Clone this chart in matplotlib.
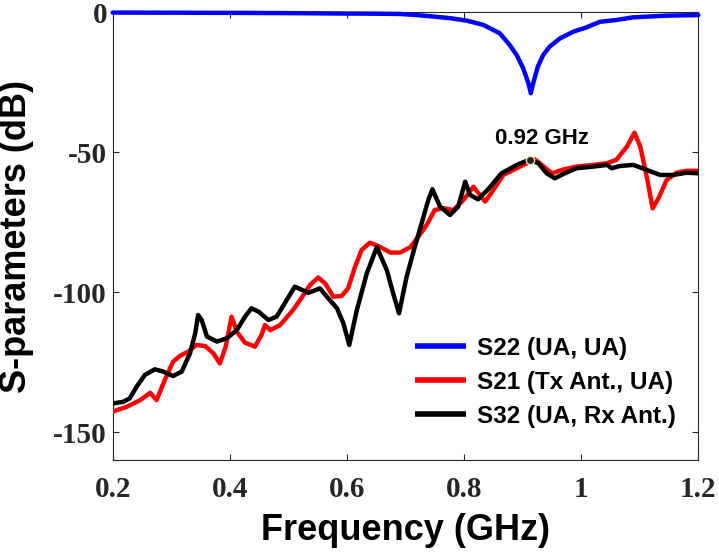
import matplotlib
matplotlib.use('Agg')
import matplotlib.pyplot as plt

# S22 (UA, UA) - reflection, deep dip at resonance
s22_f = [0.20, 0.30, 0.40, 0.50, 0.60, 0.65, 0.69, 0.72, 0.747, 0.776, 0.805,
         0.833, 0.861, 0.878, 0.890, 0.901, 0.910, 0.914, 0.918, 0.926, 0.935,
         0.946, 0.964, 0.987, 1.009, 1.032, 1.060, 1.089, 1.146, 1.200]
s22_db = [-0.1, -0.15, -0.2, -0.3, -0.45, -0.5, -0.6, -1.0, -1.5, -2.1, -3.0,
          -4.5, -7.5, -11.7, -15.3, -20.0, -25.4, -28.9, -25.4, -19.4, -15.3,
          -12.3, -9.3, -6.9, -5.4, -3.4, -2.75, -1.8, -1.2, -1.0]

# S21 (Tx Ant., UA)
s21_f = [0.200, 0.224, 0.247, 0.264, 0.275, 0.289, 0.303, 0.315, 0.329, 0.343,
         0.358, 0.372, 0.383, 0.393, 0.403, 0.412, 0.426, 0.443, 0.454, 0.460,
         0.469, 0.486, 0.508, 0.520, 0.537, 0.551, 0.563, 0.577, 0.591, 0.602,
         0.614, 0.625, 0.639, 0.654, 0.674, 0.691, 0.708, 0.722, 0.736, 0.750,
         0.765, 0.782, 0.799, 0.816, 0.836, 0.850, 0.867, 0.890, 0.909, 0.921,
         0.936, 0.950, 0.970, 0.992, 1.021, 1.044, 1.060, 1.078, 1.091, 1.101,
         1.112, 1.122, 1.132, 1.146, 1.163, 1.180, 1.200]
s21_db = [-142.6, -140.9, -138.5, -135.9, -138.5, -131.3, -124.8, -122.7, -121.2, -118.8,
          -119.2, -121.8, -125.4, -119.4, -108.7, -114.1, -118.0, -119.4, -115.3, -111.7,
          -113.5, -111.7, -106.3, -102.8, -97.4, -94.7, -96.9, -101.6, -101.3, -98.6,
          -90.8, -84.9, -82.3, -83.5, -85.8, -85.8, -83.9, -80.1, -76.0, -70.6,
          -70.0, -70.6, -67.0, -62.3, -67.6, -63.5, -58.1, -55.7, -53.7, -52.5,
          -55.1, -57.5, -56.1, -55.1, -54.5, -53.9, -52.7, -48.0, -43.0, -48.0,
          -58.7, -70.0, -66.4, -59.9, -57.3, -56.6, -56.6]

# S32 (UA, Rx Ant.)
s32_f = [0.200, 0.218, 0.229, 0.241, 0.255, 0.272, 0.286, 0.303, 0.318, 0.332,
         0.341, 0.346, 0.352, 0.361, 0.378, 0.395, 0.412, 0.426, 0.437, 0.449,
         0.466, 0.480, 0.497, 0.511, 0.522, 0.534, 0.554, 0.568, 0.583, 0.594,
         0.604, 0.617, 0.634, 0.651, 0.668, 0.679, 0.689, 0.702, 0.716, 0.730,
         0.739, 0.746, 0.759, 0.776, 0.790, 0.802, 0.810, 0.824, 0.842, 0.864,
         0.890, 0.911, 0.927, 0.941, 0.955, 0.972, 0.992, 1.021, 1.044, 1.052,
         1.066, 1.089, 1.112, 1.135, 1.157, 1.180, 1.200]
s32_db = [-139.7, -139.1, -137.9, -133.7, -129.5, -127.5, -128.3, -129.9, -128.3, -121.8,
          -114.6, -108.1, -109.9, -115.8, -117.6, -116.4, -113.5, -108.7, -105.7, -106.9,
          -109.9, -108.7, -102.8, -98.0, -99.0, -100.2, -98.6, -102.1, -105.7, -111.1,
          -118.8, -106.3, -93.2, -83.9, -92.0, -100.4, -107.5, -94.4, -83.7, -73.6,
          -67.0, -63.2, -69.4, -72.4, -69.4, -60.5, -65.2, -66.8, -63.0, -57.5,
          -54.5, -52.7, -53.9, -57.5, -59.3, -57.5, -55.7, -55.1, -54.5, -55.7,
          -54.9, -54.5, -56.3, -58.1, -58.1, -57.3, -57.5]

labels = ['S22 (UA, UA)', 'S21 (Tx Ant., UA)', 'S32 (UA, Rx Ant.)']
marker_f, marker_db = 0.913, -52.7
marker_text = '0.92 GHz'

x_ticks = [0.2, 0.4, 0.6, 0.8, 1.0, 1.2]
x_ticklabels = ['0.2', '0.4', '0.6', '0.8', '1', '1.2']
y_ticks = [-150, -100, -50, 0]
y_ticklabels = ['-150', '-100', '-50', '0']

AXCOL = '#262626'

fig = plt.figure(figsize=(7.19, 5.56), dpi=100)
ax = fig.add_axes([0.1567, 0.1721, 0.8145, 0.8058])

line_kw = dict(lw=3.2, solid_joinstyle='round', solid_capstyle='round')
ax.plot(s22_f, s22_db, color='#0000FF', label=labels[0], zorder=4,
        clip_on=False, **line_kw)
ax.plot(s21_f, s21_db, color='#FF0000', label=labels[1], zorder=3, **line_kw)
ax.plot(s32_f, s32_db, color='#000000', label=labels[2], zorder=3, **line_kw)

# marker + annotation
ax.plot([marker_f], [marker_db], 'o', ms=6, mfc='#222222', mec='#F2EBB5',
        mew=1.0, zorder=5)
ax.text(marker_f + 0.02, marker_db + 5.5, marker_text, ha='center',
        va='baseline', fontsize=16, fontweight='bold',
        family='Liberation Sans', color='black')

ax.set_xlim(0.2, 1.2)
ax.set_ylim(-160, 0)
ax.set_xticks(x_ticks)
ax.set_xticklabels(x_ticklabels)
ax.set_yticks(y_ticks)
ax.set_yticklabels(y_ticklabels)

ax.tick_params(direction='in', length=4, width=0.8, colors=AXCOL,
               top=True, right=True)
ax.tick_params(axis='x', pad=11)
ax.tick_params(axis='y', pad=4)
for lab in ax.get_xticklabels() + ax.get_yticklabels():
    lab.set_family('Liberation Serif')
    lab.set_fontweight('bold')
    lab.set_fontsize(21)
for sp in ax.spines.values():
    sp.set_edgecolor(AXCOL)
    sp.set_linewidth(0.8)

ax.set_xlabel('Frequency (GHz)', fontsize=26, fontweight='bold',
              family='Liberation Sans', color='black')
ax.set_ylabel('S-parameters (dB)', fontsize=26, fontweight='bold',
              family='Liberation Sans', color='black')
ax.xaxis.set_label_coords(0.5, -0.118)
ax.yaxis.set_label_coords(-0.134, 0.5)

leg = ax.legend(loc='upper left', bbox_to_anchor=(0.516, 0.276), frameon=False,
                borderpad=0, borderaxespad=0, handlelength=2.1,
                handletextpad=0.45, labelspacing=0.45,
                prop={'family': 'Liberation Sans', 'weight': 'bold', 'size': 17.5})
for h in leg.get_lines():
    h.set_linewidth(4)
    h.set_solid_capstyle('butt')

fig.savefig('out.png', dpi=100, facecolor='white')
